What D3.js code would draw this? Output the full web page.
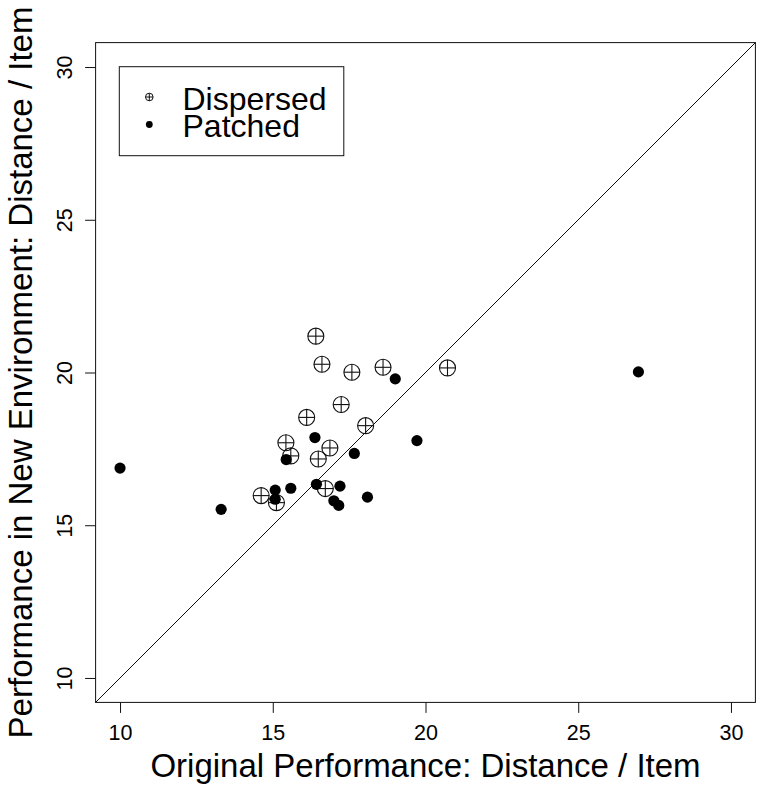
<!DOCTYPE html>
<html>
<head>
<meta charset="utf-8">
<script src="https://cdn.jsdelivr.net/npm/d3@7/dist/d3.min.js"></script>
<style>
  html, body { margin: 0; padding: 0; background: #fff; }
  svg { display: block; font-family: "Liberation Sans", Arial, Helvetica, sans-serif; }
</style>
</head>
<body>
<svg id="chart" width="762" height="793"></svg>
<script>
// ---- data ----
const dispersedX = [16.41, 16.61, 17.59, 18.61, 20.72, 17.24, 16.11, 18.04, 15.43, 16.87, 15.59, 16.49, 16.72, 14.62, 15.12];
const dispersedY = [21.19, 20.27, 20.01, 20.17, 20.15, 18.95, 18.53, 18.26, 17.70, 17.53, 17.27, 17.17, 16.20, 15.97, 15.74];
const patchedX = [19.01, 19.72, 16.38, 17.67, 15.44, 15.59, 16.43, 17.20, 15.08, 15.08, 17.00, 17.16, 18.10, 13.31, 10.00, 26.97];
const patchedY = [19.79, 17.77, 17.87, 17.35, 17.15, 16.21, 16.34, 16.28, 16.15, 15.85, 15.80, 15.65, 15.92, 15.52, 16.87, 20.02];
const xTicks = [10, 15, 20, 25, 30];
const yTicks = [10, 15, 20, 25, 30];
const legendLabels = ["Dispersed", "Patched"];
const xTitle = "Original Performance: Distance / Item";
const yTitle = "Performance in New Environment: Distance / Item";

// ---- layout ----
const svg = d3.select("#chart");
const pL = 95.6, pR = 755.4, pT = 42.6, pB = 702.4;
const domain = [9.2, 30.8];
const x = d3.scaleLinear().domain(domain).range([pL, pR]);
const y = d3.scaleLinear().domain(domain).range([pB, pT]);
const ink = "#111";

// diagonal y = x
svg.append("line")
  .attr("x1", x(domain[0])).attr("y1", y(domain[0]))
  .attr("x2", x(domain[1])).attr("y2", y(domain[1]))
  .attr("stroke", ink).attr("stroke-width", 1);

// axes
const xAxis = svg.append("g").attr("transform", `translate(0,${pB})`)
  .call(d3.axisBottom(x).tickValues(xTicks).tickFormat(d3.format("d")).tickSize(10.5).tickPadding(11.5));
xAxis.select(".domain").remove();
xAxis.attr("font-family", null).attr("font-size", null);
xAxis.selectAll("line").attr("stroke", ink);
xAxis.selectAll("text").attr("font-size", 21.5).attr("fill", "#000");

const yAxis = svg.append("g").attr("transform", `translate(${pL},0)`)
  .call(d3.axisLeft(y).tickValues(yTicks).tickFormat(d3.format("d")).tickSize(10.5));
yAxis.select(".domain").remove();
yAxis.attr("font-family", null).attr("font-size", null);
yAxis.selectAll("line").attr("stroke", ink);
yAxis.selectAll("text")
  .attr("font-size", 21.5).attr("fill", "#000")
  .attr("x", null).attr("dy", null)
  .attr("text-anchor", "middle")
  .attr("transform", "translate(-23.6,0) rotate(-90)");

// plot box
svg.append("rect")
  .attr("x", pL).attr("y", pT)
  .attr("width", pR - pL).attr("height", pB - pT)
  .attr("fill", "none").attr("stroke", ink).attr("stroke-width", 1);

// dispersed points: circle with plus
const rD = 8;
const dispersed = d3.range(dispersedX.length).map(i => [dispersedX[i], dispersedY[i]]);
const gD = svg.append("g").attr("stroke", ink).attr("stroke-width", 1.1).attr("fill", "none");
dispersed.forEach(([dx, dy]) => {
  const cx = x(dx), cy = y(dy);
  gD.append("circle").attr("cx", cx).attr("cy", cy).attr("r", rD);
  gD.append("line").attr("x1", cx - rD).attr("x2", cx + rD).attr("y1", cy).attr("y2", cy);
  gD.append("line").attr("x1", cx).attr("x2", cx).attr("y1", cy - rD).attr("y2", cy + rD);
});

// patched points: filled
const patched = d3.range(patchedX.length).map(i => [patchedX[i], patchedY[i]]);
svg.append("g").selectAll("circle").data(patched).join("circle")
  .attr("cx", d => x(d[0])).attr("cy", d => y(d[1])).attr("r", 5.6)
  .attr("fill", "#000");

// legend
const lg = svg.append("g");
lg.append("rect").attr("x", 119.3).attr("y", 66.7).attr("width", 224.5).attr("height", 89)
  .attr("fill", "#fff").attr("stroke", ink).attr("stroke-width", 1);
const symY = [97, 124.5];
const textY = [110, 137];
const rL = 3.8;
lg.append("circle").attr("cx", 149.3).attr("cy", symY[0]).attr("r", rL).attr("fill", "none").attr("stroke", ink);
lg.append("line").attr("x1", 149.3 - rL).attr("x2", 149.3 + rL).attr("y1", symY[0]).attr("y2", symY[0]).attr("stroke", ink);
lg.append("line").attr("x1", 149.3).attr("x2", 149.3).attr("y1", symY[0] - rL).attr("y2", symY[0] + rL).attr("stroke", ink);
lg.append("circle").attr("cx", 149.3).attr("cy", symY[1]).attr("r", 3.4).attr("fill", "#000");
lg.selectAll("text.lab").data(legendLabels).join("text")
  .attr("class", "lab")
  .attr("x", 182.5).attr("y", (d, i) => textY[i])
  .attr("font-size", 32).attr("fill", "#000")
  .text(d => d);

// titles
svg.append("text").attr("x", (pL + pR) / 2).attr("y", 777)
  .attr("text-anchor", "middle").attr("font-size", 33).attr("fill", "#000")
  .text(xTitle);
svg.append("text")
  .attr("transform", `translate(32,${(pT + pB) / 2}) rotate(-90)`)
  .attr("text-anchor", "middle").attr("font-size", 33).attr("fill", "#000")
  .text(yTitle);
</script>
</body>
</html>
